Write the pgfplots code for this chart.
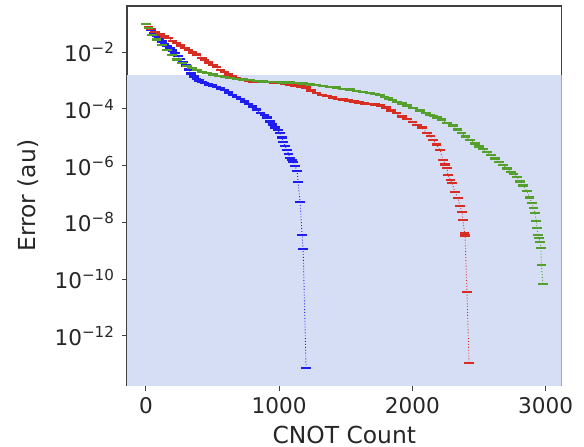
\documentclass[border=0pt]{standalone}
\usepackage{pgfplots}
\pgfplotsset{compat=1.18}
\usepackage{fontspec}
\setmainfont{DejaVu Sans}
\definecolor{cb}{RGB}{30,30,240}
\definecolor{cr}{RGB}{215,45,35}
\definecolor{cg}{RGB}{85,160,45}
\definecolor{shade}{RGB}{214,222,245}
\begin{document}
\begin{tikzpicture}
\useasboundingbox (-63.5pt,-30.65pt) rectangle (228.5pt,192.8pt);
\begin{axis}[
  at={(0,0)}, anchor=south west,
  scale only axis, width=217.3pt, height=189.8pt,
  xmin=-142, xmax=3120,
  ymode=log, ymin=1.74e-14, ymax=0.4295,
  axis line style={draw=black!75, line width=0.6pt},
  tick align=outside, tick pos=left,
  major tick length=2.5pt,
  tick style={black!75, line width=0.5pt},
  xtick={0,1000,2000,3000}, xticklabels={0,1000,2000,3000},
  ytick={1e-2,1e-4,1e-6,1e-8,1e-10,1e-12},
  yticklabels={10\textsuperscript{−2},10\textsuperscript{−4},10\textsuperscript{−6},10\textsuperscript{−8},10\textsuperscript{−10},10\textsuperscript{−12}},
  minor ytick={}, yminorticks=false,
  ticklabel style={font=\fontsize{10.8}{13}\selectfont, text=black!85},
  /pgf/number format/assume math mode=true,
  xlabel={CNOT Count}, ylabel={Error (au)},
  label style={font=\fontsize{11.7}{14}\selectfont, text=black!85},
  xlabel style={at={(axis description cs:0.5,-0.1538)}, anchor=base},
  ylabel style={at={(axis description cs:-0.2278,0.5)}, anchor=center},
  clip=true,
  every axis plot/.append style={densely dotted, line width=0.45pt, mark=-, mark size=2.4pt, mark options={solid, line width=1.25pt}},
]
\addplot[draw=none, fill=shade, mark=none, forget plot] coordinates {(-300,1e-15) (3300,1e-15) (3300,1.6e-3) (-300,1.6e-3)} -- cycle;

% blue
\addplot[cb] coordinates {
(0,1.0e-1) (20,7.94e-2) (40,6.03e-2) (60,4.68e-2) (80,3.72e-2) (100,3.02e-2)
(120,2.40e-2) (140,2.00e-2) (160,1.66e-2) (180,1.38e-2) (200,1.15e-2) (220,9.55e-3)
(240,7.41e-3) (260,5.89e-3) (280,4.47e-3) (300,3.39e-3) (320,2.51e-3) (340,1.78e-3)
(360,1.38e-3) (380,1.15e-3) (400,1.00e-3) (420,8.91e-4) (440,8.13e-4) (470,7.24e-4)
(500,6.61e-4) (530,6.03e-4) (560,5.37e-4) (590,4.68e-4) (620,3.80e-4) (650,3.16e-4)
(680,2.69e-4) (710,2.24e-4) (740,1.86e-4) (770,1.51e-4) (800,1.20e-4) (830,9.55e-5)
(860,7.24e-5) (890,6.03e-5) (910,5.01e-5) (930,3.55e-5) (950,2.82e-5) (970,2.24e-5)
(990,1.78e-5) (1007,1.41e-5) (1020,1.0e-5) (1030,6.92e-6) (1045,5.01e-6) (1060,3.55e-6)
(1070,2.63e-6) (1082,1.86e-6) (1095,1.58e-6) (1105,1.35e-6) (1120,9.55e-7) (1135,6.46e-7)
(1142,2.69e-7) (1157,5.25e-8) (1172,3.63e-9) (1180,1.15e-9) (1202,7.41e-14)
};

% red
\addplot[cr] coordinates {
(0,1.00e-1) (20,7.94e-2) (40,6.61e-2) (70,5.25e-2) (110,4.17e-2) (140,3.63e-2)
(167,3.16e-2) (200,2.51e-2) (230,2.09e-2) (260,1.74e-2) (295,1.41e-2) (320,1.20e-2)
(350,1.00e-2) (380,8.32e-3) (422,6.31e-3) (440,5.37e-3) (470,4.37e-3) (505,3.55e-3)
(530,3.02e-3) (560,2.34e-3) (590,2.00e-3) (620,1.66e-3) (650,1.38e-3)
(680,1.23e-3) (710,1.12e-3) (740,1.05e-3) (770,9.77e-4) (800,9.33e-4) (840,9.12e-4)
(880,8.91e-4) (920,8.91e-4) (960,8.71e-4) (1000,8.32e-4) (1040,7.76e-4) (1080,7.08e-4)
(1120,6.61e-4) (1160,6.17e-4) (1200,5.62e-4) (1240,4.47e-4) (1280,3.72e-4) (1320,3.16e-4)
(1360,2.82e-4) (1400,2.51e-4) (1440,2.29e-4) (1480,2.14e-4) (1520,2.00e-4) (1560,1.82e-4)
(1600,1.70e-4) (1640,1.58e-4) (1680,1.51e-4) (1720,1.45e-4) (1760,1.35e-4) (1800,1.15e-4)
(1840,8.91e-5) (1880,7.08e-5) (1920,5.50e-5) (1960,4.37e-5) (2000,3.47e-5) (2035,2.75e-5)
(2070,2.19e-5) (2110,1.41e-5) (2135,1.12e-5) (2155,8.13e-6) (2180,5.62e-6) (2207,3.55e-6)
(2230,1.58e-6) (2245,1.12e-6) (2260,8.32e-7) (2267,4.68e-7) (2285,3.16e-7) (2297,2.45e-7)
(2320,1.17e-7) (2342,7.24e-8) (2357,3.80e-8) (2372,2.34e-8) (2380,1.20e-8) (2392,3.98e-9)
(2395,3.47e-9) (2410,3.55e-11) (2425,1.10e-13)
};

% green
\addplot[cg] coordinates {
(0,1.00e-1) (20,7.08e-2) (47,4.07e-2) (80,2.82e-2) (122,1.82e-2) (160,1.20e-2)
(197,7.94e-3) (235,5.62e-3) (272,4.17e-3) (310,3.31e-3) (347,2.82e-3) (385,2.34e-3)
(422,2.04e-3) (460,1.86e-3) (505,1.66e-3) (550,1.48e-3) (590,1.35e-3) (632,1.23e-3)
(680,1.15e-3) (730,1.10e-3) (782,1.05e-3)
(830,9.77e-4) (880,9.33e-4) (930,9.12e-4) (980,8.91e-4) (1030,8.71e-4) (1080,8.51e-4)
(1135,8.32e-4) (1180,7.94e-4) (1230,7.41e-4) (1280,6.92e-4) (1330,6.46e-4) (1382,6.03e-4)
(1430,5.62e-4) (1480,5.13e-4) (1530,4.79e-4) (1580,4.37e-4) (1630,3.98e-4) (1680,3.63e-4)
(1720,3.31e-4) (1757,3.09e-4) (1790,2.69e-4) (1820,2.34e-4) (1850,2.04e-4) (1885,1.78e-4)
(1920,1.55e-4) (1960,1.32e-4) (2005,1.10e-4) (2057,8.71e-5) (2100,7.08e-5) (2132,6.17e-5)
(2160,5.62e-5) (2185,5.01e-5) (2220,4.17e-5) (2260,3.24e-5) (2305,2.63e-5) (2340,1.91e-5)
(2370,1.41e-5) (2400,1.07e-5) (2432,8.13e-6) (2470,6.03e-6) (2500,4.79e-6) (2530,3.80e-6)
(2560,3.02e-6) (2590,2.34e-6) (2620,1.78e-6) (2650,1.35e-6) (2680,1.05e-6) (2710,7.94e-7)
(2740,6.03e-7) (2760,5.01e-7) (2785,3.98e-7) (2807,2.82e-7) (2830,2.00e-7) (2860,1.26e-7)
(2880,7.59e-8) (2897,4.79e-8) (2910,3.16e-8) (2920,2.14e-8) (2930,1.12e-8) (2935,6.31e-9)
(2942,3.63e-9) (2950,2.82e-9) (2957,2.04e-9) (2965,1.26e-9) (2968,3.16e-10) (2980,6.76e-11)
};
\end{axis}
\end{tikzpicture}
\end{document}
